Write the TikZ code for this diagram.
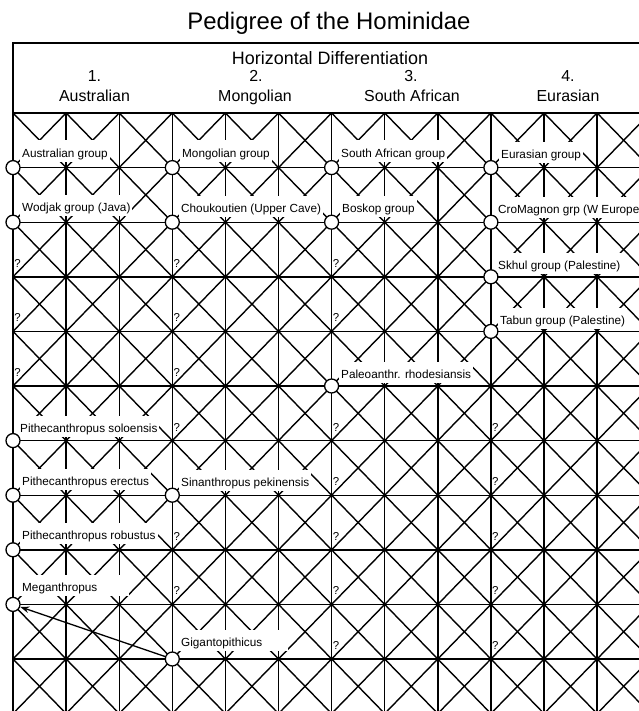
\documentclass[tikz,border=0pt]{standalone}
\usepackage{fontspec}
\setmainfont{Liberation Sans}
\usetikzlibrary{arrows.meta}
\begin{document}
\begin{tikzpicture}[x=1bp,y=-1bp,
  gridline/.style={line width=1.4bp},
  hdrline/.style={line width=1.6bp},
  lab/.style={anchor=base west, fill=white, inner xsep=2bp, inner ysep=1.5bp,
    text height=15bp, text depth=3bp, font=\fontsize{11.8}{13}\selectfont},
  widelab/.style={lab, text width=105bp, align=left},
  qmark/.style={inner sep=0pt, font=\fontsize{11.5}{13}\selectfont},
  junc/.style={circle, draw, fill=white, line width=1.3bp, minimum size=14bp, inner sep=0pt},
  hdr/.style={anchor=base, inner sep=0pt, font=\fontsize{16}{18}\selectfont},
]
\useasboundingbox (0,0) rectangle (639,711);
\begin{scope}
\clip (0,0) rectangle (639,711);
% diagonals of every cell
\foreach \k in {0,...,11}{
  \foreach \j in {0,...,10}{
    \draw[gridline] ({13+53.1*\k},{113+54.6*\j}) -- ({66.1+53.1*\k},{167.6+54.6*\j});
    \draw[gridline] ({66.1+53.1*\k},{113+54.6*\j}) -- ({13+53.1*\k},{167.6+54.6*\j});
  }
}
% horizontal lines
\foreach \j in {1,...,11}{
  \draw[gridline] (13,{113+54.6*\j}) -- (650,{113+54.6*\j});
}
% vertical lines
\foreach \k in {1,...,12}{
  \draw[gridline] ({13+53.1*\k},113) -- ({13+53.1*\k},716);
}
% frame of header and left border
\draw[hdrline] (13,716) -- (13,43) -- (650,43);
\draw[hdrline] (13,113) -- (650,113);
\end{scope}

% title and header
\node[anchor=base, inner sep=0pt, font=\fontsize{24}{28}\selectfont] (title) at (329,30) {Pedigree of the Hominidae};
\node[anchor=base, inner sep=0pt, font=\fontsize{18}{20}\selectfont] (hdiff) at (330,65) {Horizontal Differentiation};
\node[hdr] (n1) at (94.5,82) {1.};
\node[hdr] (h1) at (94.5,102) {Australian};
\node[hdr] (n2) at (256,82) {2.};
\node[hdr] (h2) at (255,102) {Mongolian};
\node[hdr] (n3) at (411,82) {3.};
\node[hdr] (h3) at (412,102) {South African};
\node[hdr] (n4) at (568,82) {4.};
\node[hdr] (h4) at (568,102) {Eurasian};

% labels
\node[lab] (l11) at (20,157) {Australian group};
\node[lab] (l21) at (180,157) {Mongolian group};
\node[lab] (l31) at (339,157) {South African group};
\node[lab] (l41) at (499,158) {Eurasian group};
\node[lab] (l12) at (20,211) {Wodjak group (Java)};
\node[lab] (l22) at (179,212) {Choukoutien (Upper Cave)};
\node[lab] (l32) at (340,212) {Boskop group};
\node[lab] (l42) at (496,213) {CroMagnon grp (W Europe};
\node[lab] (l43) at (496,269) {Skhul group (Palestine)};
\node[lab] (l44) at (498,324) {Tabun group (Palestine)};
\node[lab] (l35) at (339,378) {Paleoanthr. rhodesiansis};
\node[lab] (l16) at (18,432) {Pithecanthropus soloensis};
\node[lab] (l17) at (20,485) {Pithecanthropus erectus};
\node[lab] (l27) at (179,486) {Sinanthropus pekinensis};
\node[lab] (l18) at (20,539) {Pithecanthropus robustus};
\node[widelab] (l19) at (20,591) {Meganthropus};
\node[widelab] (l2A) at (179,646) {Gigantopithicus};

% question marks
\foreach \x/\y/\n in {17.5/263.3/a1, 17.5/317.9/a2, 17.5/372.5/a3,
  176.8/263.3/b1, 176.8/317.9/b2, 176.8/372.5/b3, 176.8/427.1/b4, 176.8/536.3/b5, 176.8/590.9/b6,
  336.1/263.3/c1, 336.1/317.9/c2, 336.1/427.1/c3, 336.1/481.7/c4, 336.1/536.3/c5, 336.1/590.9/c6, 336.1/645.5/c7,
  495.4/427.1/d1, 495.4/481.7/d2, 495.4/536.3/d3, 495.4/590.9/d4, 495.4/645.5/d5}{
  \node[qmark] (q\n) at (\x,\y) {?};
}

% junction circles
\node[junc] (c11) at (13,167.6) {};
\node[junc] (c21) at (172.3,167.6) {};
\node[junc] (c31) at (331.6,167.6) {};
\node[junc] (c41) at (490.9,167.6) {};
\node[junc] (c12) at (13,222.2) {};
\node[junc] (c22) at (172.3,222.2) {};
\node[junc] (c32) at (331.6,222.2) {};
\node[junc] (c42) at (490.9,222.2) {};
\node[junc] (c43) at (490.9,276.8) {};
\node[junc] (c44) at (490.9,331.4) {};
\node[junc] (c35) at (331.6,386) {};
\node[junc] (c16) at (13,440.6) {};
\node[junc] (c17) at (13,495.2) {};
\node[junc] (c27) at (172.3,495.2) {};
\node[junc] (c18) at (13,549.8) {};
\node[junc] (c19) at (13,604.4) {};
\node[junc] (c2A) at (172.3,659) {};

% arrow Gigantopithicus -> Meganthropus
\draw[line width=1.3bp, -{Stealth[length=9bp,width=6.5bp]}] (c2A) -- (c19);
\end{tikzpicture}
\end{document}
